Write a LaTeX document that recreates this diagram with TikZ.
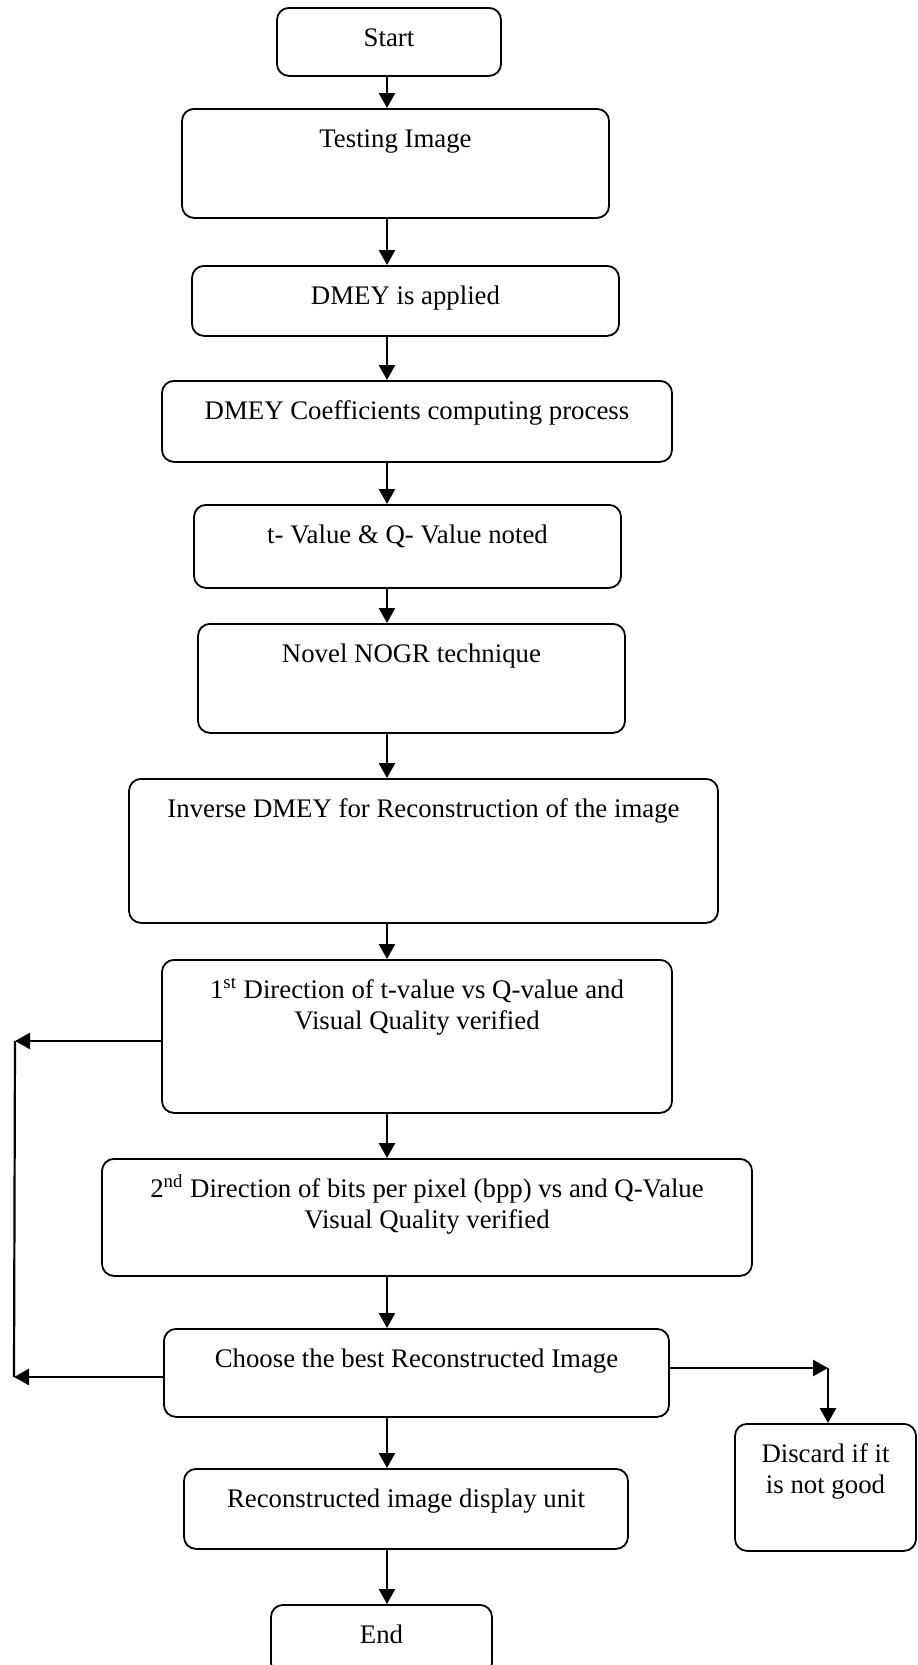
\documentclass[tikz,border=0pt]{standalone}
\usepackage{fontspec}
\setmainfont{Liberation Serif}
\usetikzlibrary{arrows.meta,positioning}

\begin{document}
\begin{tikzpicture}[x=0.5pt, y=-0.5pt, font=\fontsize{13.4}{15.3}\selectfont,
    box/.style={draw, line width=0.9pt, rounded corners=6pt, anchor=north,
                inner ysep=0pt, text height=19.5pt},
    arr/.style={-{Triangle[length=7.5pt,width=8pt]}, line width=1.3pt},
    link/.style={line width=1.1pt}]
  \useasboundingbox (0,0) rectangle (917,1665);
  % main column of steps
  \node[box, minimum width=112pt, text depth=14.5pt] (start) at (389,7) {Start};
  \node[box, minimum width=213.5pt, text depth=35pt] (testing) at (395.5,108) {Testing Image};
  \node[box, minimum width=213.5pt, text depth=15.5pt] (dmey) at (405.5,265) {DMEY is applied};
  \node[box, minimum width=255pt, text depth=21pt] (coeff) at (417,380) {DMEY Coefficients computing process};
  \node[box, minimum width=213.5pt, text depth=22pt] (tq) at (407.5,504) {t- Value \& Q- Value noted};
  \node[box, minimum width=213.5pt, text depth=35pt] (nogr) at (411.5,623) {Novel NOGR technique};
  \node[box, minimum width=294.5pt, text depth=52.5pt] (inverse) at (423.5,778) {Inverse DMEY for Reconstruction of the image};
  \node[box, minimum width=255pt, text depth=57pt] (first) at (417,959)
    {\begin{tabular}[t]{@{}c@{}}1\textsuperscript{st} Direction of t-value vs Q-value and\\ Visual Quality verified\end{tabular}};
  \node[box, minimum width=325pt, text depth=39pt] (second) at (427,1158)
    {\begin{tabular}[t]{@{}c@{}}2\textsuperscript{nd} Direction of bits per pixel (bpp) vs and Q-Value\\ Visual Quality verified\end{tabular}};
  \node[box, minimum width=252.5pt, text depth=24.5pt] (choose) at (416.5,1328) {Choose the best Reconstructed Image};
  \node[box, minimum width=222pt, text depth=20.5pt] (recon) at (406,1468) {Reconstructed image display unit};
  \node[box, minimum width=110.5pt, text depth=15.5pt] (finish) at (381.5,1604) {End};
  \node[box, minimum width=90.5pt, text depth=44pt] (discard) at (825.5,1423)
    {\begin{tabular}[t]{@{}c@{}}Discard if it\\ is not good\end{tabular}};

  % arrows down the column
  \coordinate (spine) at (387,0);
  \foreach \a/\b in {start/testing, testing/dmey, dmey/coeff, coeff/tq, tq/nogr,
                     nogr/inverse, inverse/first, first/second, second/choose,
                     choose/recon, recon/finish}
    \draw[arr] (\a.south -| spine) -- (\b.north -| spine);

  % loop on the left
  \coordinate (loopTop) at (15,1041);
  \coordinate (loopBot) at (14,1377);
  \draw[arr] (first.west |- loopTop) -- (loopTop);
  \draw[arr] (choose.west |- loopBot) -- (loopBot);
  \draw[link] (loopTop) -- (loopBot);

  % discard branch
  \coordinate (bend) at (828,1368);
  \draw[arr] (choose.east |- bend) -- (bend);
  \draw[arr] (bend) -- (bend |- discard.north);
\end{tikzpicture}
\end{document}
